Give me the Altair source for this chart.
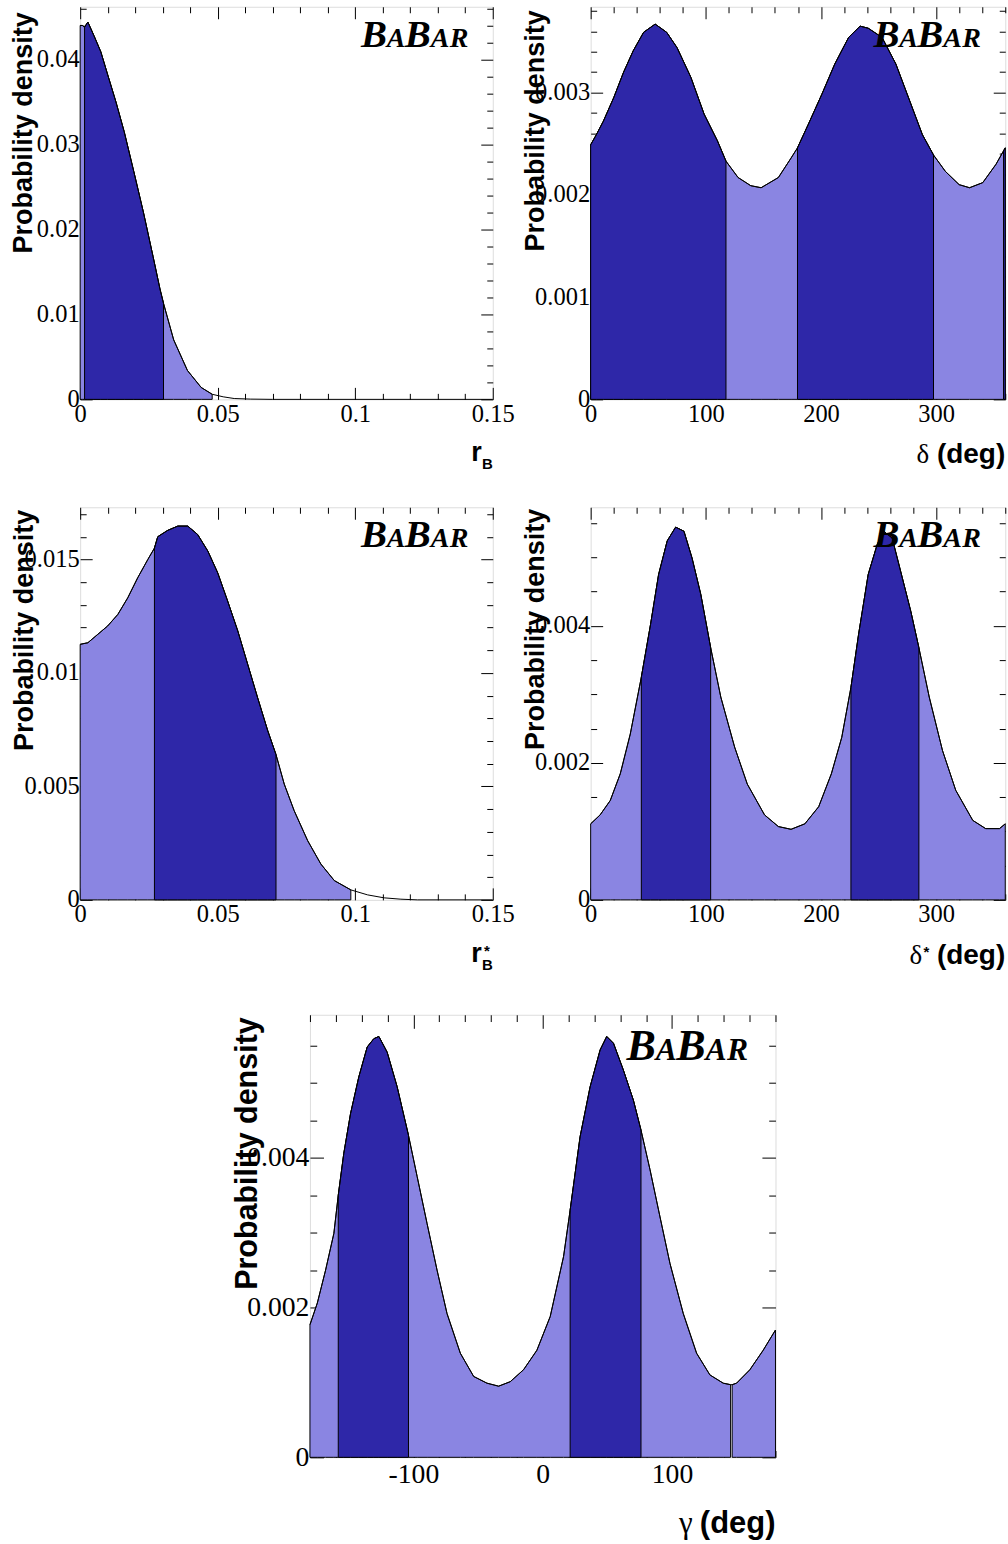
import altair as alt
import pandas as pd

# ---------------- data ----------------
# Panel 1: r_B
rb_x = [0.0, 0.0008, 0.0016, 0.0028, 0.0050, 0.0075, 0.0100, 0.0130, 0.0160, 0.0195, 0.0230,
        0.0265, 0.0290, 0.0303, 0.0340, 0.0390, 0.0440, 0.0480, 0.0520, 0.0560, 0.0620, 0.0700,
        0.0800, 0.1500]
rb_y = [0.0440, 0.0440, 0.0438, 0.0444, 0.0428, 0.0409, 0.0382, 0.0350, 0.0315, 0.0268, 0.0220,
        0.0168, 0.0130, 0.0113, 0.0070, 0.0034, 0.0014, 0.0006, 0.0003, 0.0001, 0.00003, 0.0,
        0.0, 0.0]
rb_light = [(0.0, 0.0480)]
rb_dark = [(0.0016, 0.0303)]

# Panel 2: delta
d_x = [0, 5, 11, 20, 28.6, 37, 46, 56, 66, 75, 87, 98.5, 110, 117.5, 128, 139, 148, 163, 174,
       179.6, 189, 200.6, 212, 224, 234, 241, 253, 265, 276, 288, 297.7, 308, 320, 329, 340.5,
       352, 358.5, 360]
d_y = [0.00249, 0.00259, 0.00272, 0.00295, 0.00320, 0.00341, 0.00359, 0.00367, 0.00359, 0.00344,
       0.00315, 0.00279, 0.00253, 0.00233, 0.00217, 0.00209, 0.00207, 0.00217, 0.00236, 0.00246,
       0.00269, 0.00298, 0.00328, 0.00354, 0.00365, 0.00363, 0.00354, 0.00328, 0.00295, 0.00259,
       0.00239, 0.00223, 0.00210, 0.00207, 0.00212, 0.00230, 0.00243, 0.00246]
d_light = [(0, 360)]
d_dark = [(0, 117.5), (179.6, 297.7), (358.5, 360)]

# Panel 3: r_B^*
rs_x = [0, 0.0028, 0.0064, 0.0100, 0.0137, 0.0173, 0.0209, 0.0246, 0.0270, 0.0282, 0.0318,
        0.0355, 0.0391, 0.0427, 0.0464, 0.0500, 0.0536, 0.0573, 0.0609, 0.0645, 0.0682, 0.0712,
        0.0742, 0.0778, 0.0827, 0.0875, 0.0924, 0.0984, 0.1045, 0.1105, 0.1166, 0.1226, 0.1500]
rs_y = [0.01126, 0.01133, 0.01170, 0.01207, 0.01258, 0.01331, 0.01419, 0.01500, 0.01550, 0.01600,
        0.01628, 0.01647, 0.01647, 0.01610, 0.01537, 0.01441, 0.01317, 0.01185, 0.01038, 0.00891,
        0.00745, 0.00640, 0.00510, 0.00393, 0.00261, 0.00158, 0.00085, 0.00044, 0.00022, 0.00009,
        0.00003, 0.0, 0.0]
rs_light = [(0, 0.0984)]
rs_dark = [(0.0270, 0.0712)]

# Panel 4: delta^*
ds_x = [0, 8.2, 17, 25.7, 34.4, 44, 52, 59, 66.5, 73.8, 81, 88, 95.6, 104.2, 113, 125, 136, 151,
        163, 174, 186, 198, 209, 218, 226, 232.6, 241, 248.7, 254.5, 261.8, 270.6, 278, 285, 294,
        305.5, 317, 331.8, 343, 355, 360]
ds_y = [0.00111, 0.00124, 0.00145, 0.00184, 0.00242, 0.00325, 0.00402, 0.00475, 0.00524, 0.00544,
        0.00538, 0.00499, 0.00446, 0.00368, 0.00296, 0.00223, 0.00169, 0.00124, 0.00107, 0.00103,
        0.00111, 0.00136, 0.00184, 0.00237, 0.00310, 0.00387, 0.00475, 0.00518, 0.00538, 0.00528,
        0.00470, 0.00421, 0.00368, 0.00296, 0.00218, 0.00160, 0.00116, 0.00104, 0.00104, 0.00111]
ds_light = [(0, 360)]
ds_dark = [(44, 104.2), (226, 285)]

# Panel 5: gamma
g_x = [-180, -174.3, -167.9, -161.5, -158.1, -153.8, -148.6, -142.2, -135.7, -130.6, -126.7,
       -120.3, -112.6, -103.8, -97.1, -89.4, -81.7, -74, -63.7, -53.4, -43.1, -34.1, -25.1, -14.8,
       -4.5, 5.8, 16.1, 21.2, 28.9, 36.7, 44.4, 49.5, 54.7, 62.4, 70.1, 76.0, 83, 90.7, 98.4,
       108.7, 119, 129.3, 139.6, 145.3, 146.5, 149.9, 160.2, 170.5, 180]
g_y = [0.00177, 0.00206, 0.00250, 0.00299, 0.00350, 0.00406, 0.00459, 0.00508, 0.00548, 0.00559,
       0.00562, 0.00541, 0.00495, 0.00430, 0.00375, 0.00312, 0.00250, 0.00192, 0.00139, 0.00108,
       0.00099, 0.00095, 0.00101, 0.00117, 0.00143, 0.00188, 0.00268, 0.00330, 0.00428, 0.00495,
       0.00544, 0.00562, 0.00553, 0.00517, 0.00477, 0.00437, 0.00384, 0.00321, 0.00259, 0.00192,
       0.00139, 0.00110, 0.00099, 0.00097, 0.00097, 0.00099, 0.00117, 0.00143, 0.00170]
g_light = [(-180, 145.3), (146.5, 180)]
g_dark = [(-158.1, -103.8), (21.2, 76.0)]

DARK = "#2e27a8"
LIGHT = "#8a85e2"
SANS = "Liberation Sans"
SERIF = "Liberation Serif"


def segments(xs, ys, intervals):
    rows = []
    for i, (lo, hi) in enumerate(intervals):
        for x, y in zip(xs, ys):
            if lo - 1e-9 <= x <= hi + 1e-9:
                rows.append({"x": x, "y": y, "seg": i})
    return pd.DataFrame(rows)


def tick_values(lo, hi, step):
    n = int((hi - lo) / step + 1e-6)
    return [round(lo + k * step, 6) for k in range(n + 1)]


def tick_axis(orient, offset, values, major, s):
    test = f"abs(datum.value/{major} - round(datum.value/{major})) < 1e-6"
    return alt.Axis(orient=orient, offset=offset, values=values, labels=False, domain=False,
                    grid=False, ticks=True, tickColor="black", tickWidth=1,
                    tickSize={"condition": {"test": test, "value": 12 * s}, "value": 6 * s},
                    title=None)


def text(t, x, y, size, font=SANS, weight="bold", style="normal", align="right"):
    return alt.Chart(alt.Data(values=[{}])).mark_text(
        text=t, font=font, fontSize=size, fontWeight=weight, fontStyle=style,
        align=align, baseline="alphabetic", color="black"
    ).encode(x=alt.value(x), y=alt.value(y))


def logo(W, s):
    big = 39 * s
    small = 28 * s
    base = 40 * s
    return [
        text("B", W - 132 * s, base, big, SERIF, "bold", "italic", "left"),
        text("A", W - 106 * s, base, small, SERIF, "bold", "italic", "left"),
        text("B", W - 88 * s, base, big, SERIF, "bold", "italic", "left"),
        text("A", W - 62 * s, base, small, SERIF, "bold", "italic", "left"),
        text("R", W - 43 * s, base, small, SERIF, "bold", "italic", "left"),
    ]


def panel(xs, ys, light_iv, dark_iv, xdom, ydom, W, H, xmaj, xmaj_step, xmin_step,
          ymaj, ymaj_step, ymin_step, title_layers, s=1.0, ytx=-57, yty=3):
    full = pd.DataFrame({"x": xs, "y": ys})
    light_df = segments(xs, ys, light_iv)
    dark_df = segments(xs, ys, dark_iv)
    xsc = alt.Scale(domain=xdom, nice=False, zero=False)
    ysc = alt.Scale(domain=ydom, nice=False, zero=False)
    xall = tick_values(xdom[0], xdom[1], xmin_step)
    yall = tick_values(0, ydom[1], ymin_step)
    lab = 24.5 * s

    ax_x = alt.Axis(orient="bottom", values=xmaj, labelExpr="'' + datum.value", ticks=False,
                    domain=False, grid=False, labelFont=SERIF, labelFontSize=lab,
                    labelColor="black", labelPadding=3, labelFlush=False, labelOverlap=False,
                    title=None)
    ax_y = alt.Axis(orient="left", values=ymaj, labelExpr="'' + datum.value", ticks=False,
                    domain=False, grid=False, labelFont=SERIF, labelFontSize=lab,
                    labelColor="black", labelPadding=1, labelFlush=False, labelOverlap=False,
                    title="Probability density", titleFont=SANS, titleFontWeight="bold",
                    titleFontSize=27 * s, titleColor="black", titleX=ytx, titleY=yty,
                    titleAlign="right", titleBaseline="middle", titleAngle=270)

    light = alt.Chart(light_df).mark_area(fill=LIGHT, stroke="black", strokeWidth=1).encode(
        x=alt.X("x:Q", scale=xsc, axis=ax_x),
        y=alt.Y("y:Q", scale=ysc, axis=ax_y, stack=None),
        detail="seg:N")
    dark = alt.Chart(dark_df).mark_area(fill=DARK, stroke="black", strokeWidth=1).encode(
        x=alt.X("x:Q", scale=xsc, axis=tick_axis("top", -H, xall, xmaj_step, s)),
        y=alt.Y("y:Q", scale=ysc, axis=tick_axis("right", -W, yall, ymaj_step, s), stack=None),
        detail="seg:N")
    line = alt.Chart(full).mark_line(color="black", strokeWidth=1).encode(
        x=alt.X("x:Q", scale=xsc, axis=tick_axis("bottom", -H, xall, xmaj_step, s)),
        y=alt.Y("y:Q", scale=ysc, axis=tick_axis("left", -W, yall, ymaj_step, s)))

    layers = [light, dark, line] + logo(W, s) + title_layers
    return alt.layer(*layers).resolve_axis(x="independent", y="independent").properties(
        width=W, height=H)


W1, H1 = 413, 393
W2 = 415
W5, H5 = 466, 443
s5 = 1.13

p1 = panel(rb_x, rb_y, rb_light, rb_dark, [0, 0.15], [0, 0.0462], W1, H1,
           [0, 0.05, 0.1, 0.15], 0.05, 0.01, [0, 0.01, 0.02, 0.03, 0.04], 0.01, 0.002,
           [text("r", W1 - 11, H1 + 62, 27), text("B", W1, H1 + 70, 15)], ytx=-57, yty=5)
p2 = panel(d_x, d_y, d_light, d_dark, [0, 360], [0, 0.00384], W2, H1,
           [0, 100, 200, 300], 100, 20, [0, 0.001, 0.002, 0.003], 0.001, 0.0002,
           [text("δ", W2 - 76, H1 + 64, 27, SERIF, "normal"), text("(deg)", W2, H1 + 64, 28)],
           ytx=-55, yty=3)
p3 = panel(rs_x, rs_y, rs_light, rs_dark, [0, 0.15], [0, 0.0173], W1, H1,
           [0, 0.05, 0.1, 0.15], 0.05, 0.01, [0, 0.005, 0.01, 0.015], 0.005, 0.001,
           [text("r", W1 - 11, H1 + 62, 27), text("*", W1 - 3, H1 + 56, 15),
            text("B", W1, H1 + 70, 15)], ytx=-56, yty=2)
p4 = panel(ds_x, ds_y, ds_light, ds_dark, [0, 360], [0, 0.00573], W2, H1,
           [0, 100, 200, 300], 100, 20, [0, 0.002, 0.004], 0.002, 0.0005,
           [text("δ", W2 - 83, H1 + 64, 27, SERIF, "normal"), text("*", W2 - 76, H1 + 57, 15),
            text("(deg)", W2, H1 + 64, 28)], ytx=-55, yty=1)
p5 = panel(g_x, g_y, g_light, g_dark, [-180, 180], [0, 0.00591], W5, H5,
           [-100, 0, 100], 100, 20, [0, 0.002, 0.004], 0.002, 0.0005,
           [text("γ", W5 - 83, H5 + 76, 31, SERIF, "normal"), text("(deg)", W5, H5 + 76, 31)],
           s=s5, ytx=-62, yty=2)

row1 = alt.hconcat(p1, p2, spacing=6)
row2 = alt.hconcat(p3, p4, spacing=6)
top = alt.vconcat(row1, row2, spacing=33)
chart = alt.vconcat(top, p5, spacing=40, center=True).properties(
    padding={"left": 8, "top": 5, "right": 0, "bottom": 0}
).configure_view(stroke="black", strokeWidth=1).configure(background="white")

chart.save("out.html", embed_options={"renderer": "svg", "actions": False})
